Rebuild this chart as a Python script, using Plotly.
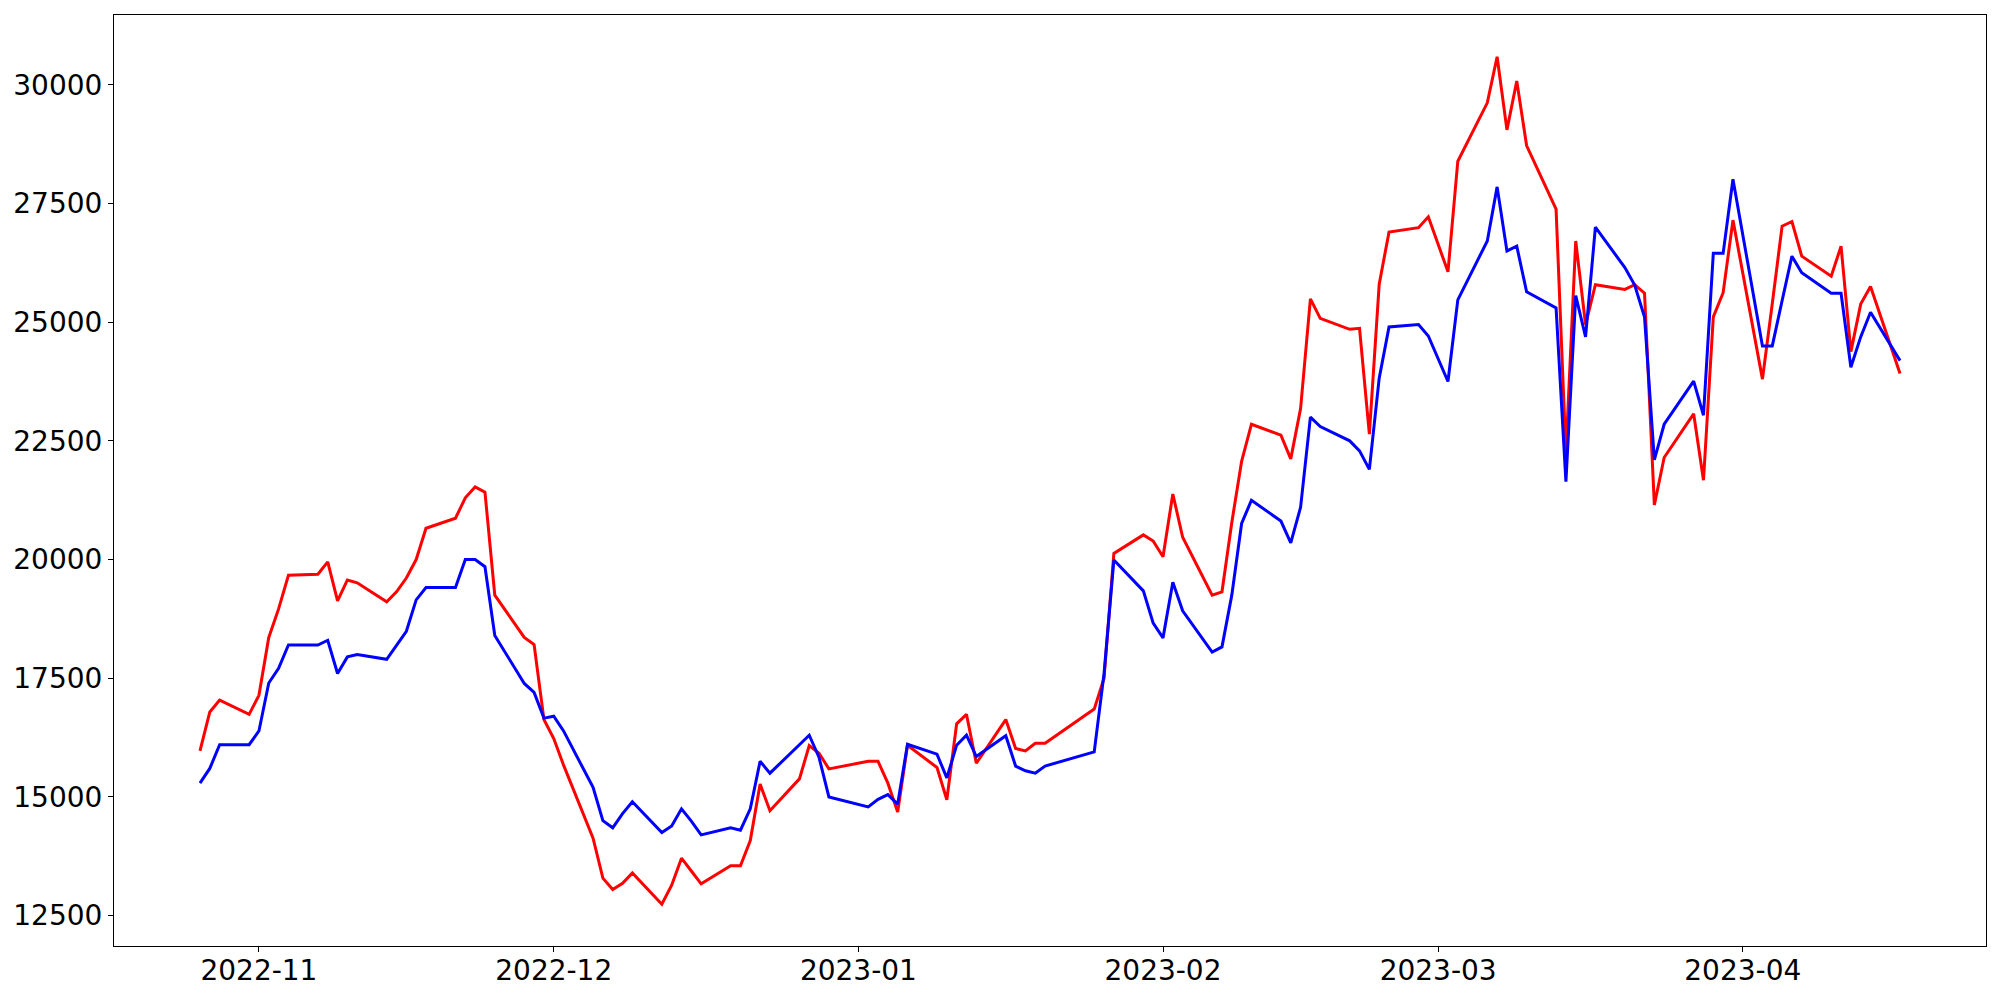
import plotly.graph_objects as go

dates = [
    "2022-10-26", "2022-10-27", "2022-10-28", "2022-10-31",
    "2022-11-01", "2022-11-02", "2022-11-03", "2022-11-04", "2022-11-07", "2022-11-08",
    "2022-11-09", "2022-11-10", "2022-11-11", "2022-11-14", "2022-11-15", "2022-11-16",
    "2022-11-17", "2022-11-18", "2022-11-21", "2022-11-22", "2022-11-23", "2022-11-24",
    "2022-11-25", "2022-11-28", "2022-11-29", "2022-11-30",
    "2022-12-01", "2022-12-02", "2022-12-05", "2022-12-06", "2022-12-07", "2022-12-08",
    "2022-12-09", "2022-12-12", "2022-12-13", "2022-12-14", "2022-12-15", "2022-12-16",
    "2022-12-19", "2022-12-20", "2022-12-21", "2022-12-22", "2022-12-23", "2022-12-26",
    "2022-12-27", "2022-12-28", "2022-12-29",
    "2023-01-02", "2023-01-03", "2023-01-04", "2023-01-05", "2023-01-06", "2023-01-09",
    "2023-01-10", "2023-01-11", "2023-01-12", "2023-01-13", "2023-01-16", "2023-01-17",
    "2023-01-18", "2023-01-19", "2023-01-20", "2023-01-25", "2023-01-26", "2023-01-27",
    "2023-01-30", "2023-01-31",
    "2023-02-01", "2023-02-02", "2023-02-03", "2023-02-06", "2023-02-07", "2023-02-08",
    "2023-02-09", "2023-02-10", "2023-02-13", "2023-02-14", "2023-02-15", "2023-02-16",
    "2023-02-17", "2023-02-20", "2023-02-21", "2023-02-22", "2023-02-23", "2023-02-24",
    "2023-02-27", "2023-02-28",
    "2023-03-02", "2023-03-03", "2023-03-06", "2023-03-07", "2023-03-08", "2023-03-09",
    "2023-03-10", "2023-03-13", "2023-03-14", "2023-03-15", "2023-03-16", "2023-03-17",
    "2023-03-20", "2023-03-21", "2023-03-22", "2023-03-23", "2023-03-24", "2023-03-27",
    "2023-03-28", "2023-03-29", "2023-03-30", "2023-03-31",
    "2023-04-03", "2023-04-04", "2023-04-05", "2023-04-06", "2023-04-07", "2023-04-10",
    "2023-04-11", "2023-04-12", "2023-04-13", "2023-04-14", "2023-04-17",
]

red_values = [
    15970, 16790, 17040, 16740,
    17140, 18360, 18960, 19670, 19690, 19950,
    19130, 19570, 19510, 19110, 19320, 19610,
    20000, 20660, 20870, 21300, 21530, 21420,
    19250, 18360, 18210, 16630,
    16230, 15670, 14130, 13290, 13050, 13180,
    13400, 12740, 13140, 13710, 13440, 13170,
    13550, 13550, 14080, 15270, 14710, 15380,
    16080, 15920, 15590,
    15750, 15750, 15290, 14680, 16090, 15620,
    14940, 16540, 16740, 15710, 16630, 16020,
    15970, 16130, 16130, 16850, 17500, 20130,
    20520, 20390,
    20060, 21380, 20470, 19250, 19320, 20780,
    22070, 22850, 22620, 22120, 23180, 25490,
    25080, 24850, 24870, 22640, 25800, 26900,
    26990, 27220,
    26060, 28390, 29620, 30590, 29050, 30080,
    28720, 27380, 22240, 26710, 24950, 25790,
    25690, 25790, 25610, 21150, 22150, 23070,
    21670, 25110, 25620, 27150,
    23800, 25390, 27020, 27120, 26390, 25970,
    26600, 24380, 25380, 25750, 23920,
]

blue_values = [
    15290, 15600, 16100, 16100,
    16390, 17400, 17710, 18200, 18200, 18300,
    17600, 17950, 18000, 17900, 18190, 18490,
    19150, 19410, 19410, 20000, 20000, 19850,
    18400, 17390, 17200, 16660,
    16700, 16390, 15200, 14500, 14350, 14650,
    14900, 14250, 14390, 14750, 14490, 14200,
    14350, 14300, 14750, 15750, 15500, 16100,
    16300, 15830, 15000,
    14790, 14950, 15050, 14850, 16110, 15900,
    15400, 16090, 16300, 15850, 16290, 15650,
    15550, 15500, 15650, 15950, 17600, 19990,
    19340, 18660,
    18350, 19520, 18920, 18050, 18160, 19250,
    20760, 21250, 20810, 20350, 21100, 23000,
    22800, 22500, 22290, 21900, 23820, 24900,
    24950, 24710,
    23750, 25470, 26710, 27850, 26500, 26600,
    25640, 25300, 21640, 25560, 24690, 27000,
    26150, 25780, 25110, 22100, 22850, 23760,
    23040, 26450, 26450, 28010,
    24500, 24500, 25450, 26390, 26040, 25610,
    25610, 24050, 24690, 25210, 24190,
]

y_ticks = [12500, 15000, 17500, 20000, 22500, 25000, 27500, 30000]
x_ticks = ["2022-11-01", "2022-12-01", "2023-01-01", "2023-02-01", "2023-03-01", "2023-04-01"]
x_tick_labels = ["2022-11", "2022-12", "2023-01", "2023-02", "2023-03", "2023-04"]

fig = go.Figure()
fig.add_trace(go.Scatter(x=dates, y=red_values, mode="lines",
                         line=dict(color="#ff0000", width=3), showlegend=False))
fig.add_trace(go.Scatter(x=dates, y=blue_values, mode="lines",
                         line=dict(color="#0000ff", width=3), showlegend=False))

fig.update_layout(
    width=2000, height=1000,
    margin=dict(l=114, r=14, t=15, b=54, pad=0),
    paper_bgcolor="white", plot_bgcolor="white",
    font=dict(family="DejaVu Sans", size=28, color="black"),
)
fig.update_xaxes(
    type="date", automargin=False,
    range=["2022-10-17 06:00", "2023-04-25 18:00"],
    tickvals=x_ticks, ticktext=x_tick_labels,
    showgrid=False, zeroline=False,
    showline=True, mirror=True, linecolor="black", linewidth=1.1,
    ticks="outside", ticklen=5, tickwidth=1.1, tickcolor="black",
    ticklabelstandoff=-6,
)
fig.update_yaxes(
    automargin=False,
    range=[11860, 31470],
    tickvals=y_ticks, ticktext=[str(v) for v in y_ticks],
    showgrid=False, zeroline=False,
    showline=True, mirror=True, linecolor="black", linewidth=1.1,
    ticks="outside", ticklen=5, tickwidth=1.1, tickcolor="black",
    ticklabelstandoff=0,
)

fig.write_html(
    "out.html",
    config={"displayModeBar": False},
    post_script="document.body.style.margin='0';document.body.style.overflow='hidden';",
)
